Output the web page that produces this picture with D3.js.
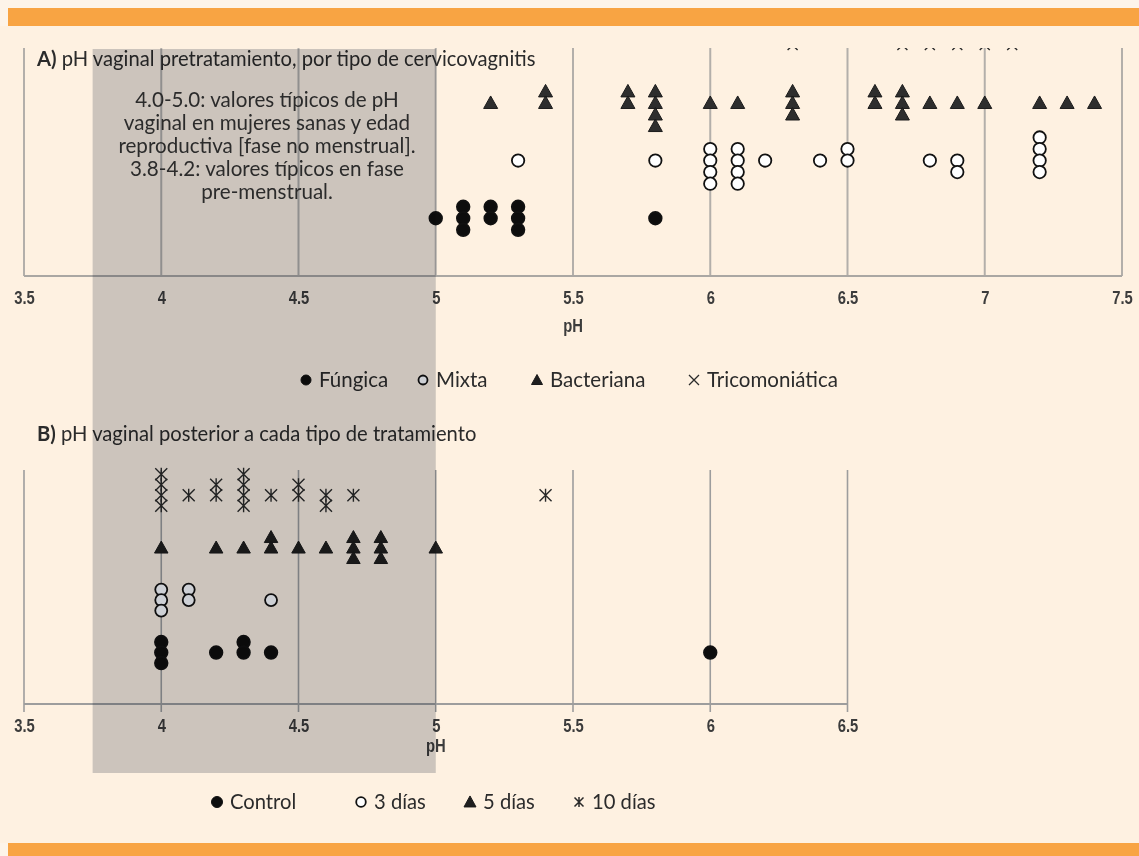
<!DOCTYPE html>
<html>
<head>
<meta charset="utf-8">
<script src="https://cdn.jsdelivr.net/npm/d3@7"></script>
<style>
  html, body { margin: 0; padding: 0; background: #fdf4e9; }
  svg { display: block; }
  .txt { font-family: Lato, "Open Sans", sans-serif; fill: #2b2b2b; }
  .num { font-family: "Liberation Sans", Arial, sans-serif; font-weight: bold; fill: #3c3c3c; }
</style>
</head>
<body>
<script>
// ---- Panel A: pretreatment vaginal pH by infection type ----
// each point: [pH, row position] (row 1 = Fúngica ... row 4 = Tricomoniática)
const fungicaA = [[5.0,1.0],[5.1,1.2],[5.1,1.0],[5.1,0.8],[5.2,1.2],[5.2,1.0],
  [5.3,1.2],[5.3,1.0],[5.3,0.8],[5.8,1.0]];
const mixtaA = [[5.3,2.0],[5.8,2.0],[6.0,2.2],[6.0,2.0],[6.0,1.8],[6.0,1.6],
  [6.1,2.2],[6.1,2.0],[6.1,1.8],[6.1,1.6],[6.2,2.0],[6.4,2.0],[6.5,2.2],[6.5,2.0],
  [6.8,2.0],[6.9,2.0],[6.9,1.8],[7.2,2.4],[7.2,2.2],[7.2,2.0],[7.2,1.8]];
const bacterianaA = [[5.2,3.0],[5.4,3.2],[5.4,3.0],[5.7,3.2],[5.7,3.0],
  [5.8,3.2],[5.8,3.0],[5.8,2.8],[5.8,2.6],[6.0,3.0],[6.1,3.0],[6.3,3.2],[6.3,3.0],[6.3,2.8],
  [6.6,3.2],[6.6,3.0],[6.7,3.2],[6.7,3.0],[6.7,2.8],[6.8,3.0],[6.9,3.0],[7.0,3.0],
  [7.2,3.0],[7.3,3.0],[7.4,3.0]];
const tricoA = [[6.3,4.0],[6.7,4.0],[6.8,4.0],[6.9,4.0],[7.0,4.0],[7.1,4.0]];
const legendA = ["Fúngica", "Mixta", "Bacteriana", "Tricomoniática"];
const ticksA = [3.5, 4, 4.5, 5, 5.5, 6, 6.5, 7, 7.5];

// ---- Panel B: vaginal pH after each treatment ----
const controlB = [[4.0,1.2],[4.0,1.0],[4.0,0.8],[4.2,1.0],[4.3,1.2],[4.3,1.0],[4.4,1.0],[6.0,1.0]];
const dias3B = [[4.0,2.2],[4.0,2.0],[4.0,1.8],[4.1,2.2],[4.1,2.0],[4.4,2.0]];
const dias5B = [[4.0,3.0],[4.2,3.0],[4.3,3.0],[4.4,3.2],[4.4,3.0],[4.5,3.0],[4.6,3.0],
  [4.7,3.2],[4.7,3.0],[4.7,2.8],[4.8,3.2],[4.8,3.0],[4.8,2.8],[5.0,3.0]];
const dias10B = [[4.0,4.4],[4.0,4.2],[4.0,4.0],[4.0,3.8],[4.1,4.0],[4.2,4.2],[4.2,4.0],
  [4.3,4.4],[4.3,4.2],[4.3,4.0],[4.3,3.8],[4.4,4.0],[4.5,4.2],[4.5,4.0],[4.6,4.0],[4.6,3.8],
  [4.7,4.0],[5.4,4.0]];
const legendB = ["Control", "3 días", "5 días", "10 días"];
const ticksB = [3.5, 4, 4.5, 5, 5.5, 6, 6.5];

// reference pH band and its note
const normalBand = [3.75, 5.0];
const noteLines = ["4.0-5.0: valores típicos de pH", "vaginal en mujeres sanas y edad",
  "reproductiva [fase no menstrual].", "3.8-4.2: valores típicos en fase", "pre-menstrual."];

const W = 1139, H = 856;
const svg = d3.select("body").append("svg").attr("width", W).attr("height", H);

svg.append("rect").attr("x", 0).attr("y", 0).attr("width", W).attr("height", H).attr("fill", "#fdf4e9");
svg.append("rect").attr("x", 0).attr("y", 26).attr("width", W).attr("height", 817).attr("fill", "#fef1e1");
svg.append("rect").attr("x", 8).attr("y", 8).attr("width", W - 8).attr("height", 18).attr("fill", "#f8a443");
svg.append("rect").attr("x", 8).attr("y", 843).attr("width", W - 8).attr("height", 13).attr("fill", "#f8a443");

// scales
const xA = d3.scaleLinear().domain([3.5, 7.5]).range([24, 1122]);
const yA = d3.scaleLinear().domain([0, 3.95]).range([276, 48]);
const xB = d3.scaleLinear().domain([3.5, 6.5]).range([24, 847.5]);
const yB = d3.scaleLinear().domain([0, 4.48]).range([705, 470]);

// marker painters
function circle(g, r, fill) {
  return g.append("circle").attr("r", r).attr("fill", fill).attr("stroke", "#111").attr("stroke-width", 1.8);
}
function triangle(g, w, h, fill) {
  return g.append("path")
    .attr("d", `M0,${-h * 0.55}L${w / 2},${h * 0.45}L${-w / 2},${h * 0.45}Z`)
    .attr("fill", fill).attr("stroke", "#1a1a1a").attr("stroke-width", 1);
}
function cross(g, s, withBar) {
  let d = `M${-s},${-s}L${s},${s}M${s},${-s}L${-s},${s}`;
  if (withBar) d += `M0,${-s - 0.5}L0,${s + 0.5}`;
  return g.append("path").attr("d", d).attr("fill", "none").attr("stroke", "#2a2a2a").attr("stroke-width", 1.4);
}

function plotSeries(layer, data, x, y, draw) {
  layer.selectAll(null).data(data).enter().append("g")
    .attr("transform", d => `translate(${x(d[0])},${y(d[1])})`)
    .each(function () { draw(d3.select(this)); });
}

// condensed bold numerals for the axes
const NUM_SIZE = 18.5, NUM_SQUEEZE = 0.8;
function styleAxisText(sel) {
  sel.selectAll("text")
    .attr("class", "num").attr("font-size", NUM_SIZE)
    .attr("transform", `scale(${NUM_SQUEEZE},1)`);
}

// ---------- Panel A ----------
const gA = svg.append("g");
gA.append("defs").append("clipPath").attr("id", "clipA")
  .append("rect").attr("x", 0).attr("y", yA(3.95)).attr("width", W).attr("height", yA(0) - yA(3.95) + 10);

// vertical grid lines
gA.append("g").selectAll("line").data(ticksA).enter().append("line")
  .attr("x1", d => xA(d)).attr("x2", d => xA(d))
  .attr("y1", yA(3.95)).attr("y2", yA(0))
  .attr("stroke", "#b3afaa").attr("stroke-width", 2);
gA.append("line").attr("x1", xA(3.5)).attr("x2", xA(7.5)).attr("y1", yA(0)).attr("y2", yA(0))
  .attr("stroke", "#aaa7a3").attr("stroke-width", 2);

const axA = gA.append("g").attr("transform", `translate(0,${yA(0)})`)
  .call(d3.axisBottom(xA).tickValues(ticksA).tickFormat(d => String(d)).tickSize(0).tickPadding(15));
axA.select(".domain").remove();
styleAxisText(axA);
gA.append("text").attr("class", "num").attr("font-size", NUM_SIZE).attr("text-anchor", "middle")
  .attr("transform", `translate(${xA(5.5)},332) scale(${NUM_SQUEEZE},1)`).text("pH");

const marksA = gA.append("g").attr("clip-path", "url(#clipA)");
plotSeries(marksA, fungicaA, xA, yA, g => circle(g, 6.3, "#0d0d0d"));
plotSeries(marksA, mixtaA, xA, yA, g => circle(g, 6.2, "#ffffff"));
plotSeries(marksA, bacterianaA, xA, yA, g => triangle(g, 14, 12.5, "#2e2e2e"));
plotSeries(marksA, tricoA, xA, yA, g => cross(g, 5, false));

// title A
const tA = svg.append("text").attr("class", "txt").attr("x", 37).attr("y", 66).attr("font-size", 20.2);
tA.append("tspan").attr("font-weight", "bold").text("A)");
tA.append("tspan").text(" pH vaginal pretratamiento, por tipo de cervicovagnitis");

// legend A
const legAx = [306, 423, 537, 694];
const legA = svg.append("g").attr("transform", "translate(0,380)");
legendA.forEach((name, i) => {
  const g = legA.append("g").attr("transform", `translate(${legAx[i]},0)`);
  if (i === 0) circle(g, 5, "#0d0d0d").attr("stroke-width", 1);
  if (i === 1) circle(g, 4.5, "#ffffff").attr("stroke-width", 1.8);
  if (i === 2) triangle(g, 11, 10, "#1e1e1e");
  if (i === 3) cross(g, 5, false).attr("stroke-width", 1.3);
  legA.append("text").attr("class", "txt").attr("x", legAx[i] + 13).attr("y", 7)
    .attr("font-size", 20.5).text(name);
});

// ---------- Panel B ----------
const gB = svg.append("g");
gB.append("g").selectAll("line").data(ticksB).enter().append("line")
  .attr("x1", d => xB(d)).attr("x2", d => xB(d))
  .attr("y1", yB(4.48)).attr("y2", 712)
  .attr("stroke", "#9d9d9d").attr("stroke-width", 1.6);
gB.append("line").attr("x1", xB(3.5)).attr("x2", xB(6.5)).attr("y1", 704).attr("y2", 704)
  .attr("stroke", "#9d9d9d").attr("stroke-width", 2);

const axB = gB.append("g").attr("transform", "translate(0,704)")
  .call(d3.axisBottom(xB).tickValues(ticksB).tickFormat(d => String(d)).tickSize(0).tickPadding(15));
axB.select(".domain").remove();
styleAxisText(axB);
gB.append("text").attr("class", "num").attr("font-size", NUM_SIZE).attr("text-anchor", "middle")
  .attr("transform", `translate(${xB(5)},752) scale(${NUM_SQUEEZE},1)`).text("pH");

const marksB = gB.append("g");
plotSeries(marksB, controlB, xB, yB, g => circle(g, 6.3, "#0d0d0d"));
plotSeries(marksB, dias3B, xB, yB, g => circle(g, 6, "#ffffff"));
plotSeries(marksB, dias5B, xB, yB, g => triangle(g, 13.5, 12, "#1e1e1e"));
plotSeries(marksB, dias10B, xB, yB, g => cross(g, 6, true));

// title B
const tB = svg.append("text").attr("class", "txt").attr("x", 37).attr("y", 441).attr("font-size", 20.2);
tB.append("tspan").attr("font-weight", "bold").text("B)");
tB.append("tspan").text(" pH vaginal posterior a cada tipo de tratamiento");

// legend B
const legBx = [217, 361, 470, 579];
const legB = svg.append("g").attr("transform", "translate(0,802)");
legendB.forEach((name, i) => {
  const g = legB.append("g").attr("transform", `translate(${legBx[i]},0)`);
  if (i === 0) circle(g, 5.5, "#0d0d0d").attr("stroke-width", 1);
  if (i === 1) circle(g, 4.8, "#ffffff").attr("stroke-width", 1.8);
  if (i === 2) triangle(g, 12, 11, "#1e1e1e");
  if (i === 3) cross(g, 4.5, true).attr("stroke-width", 1.5);
  legB.append("text").attr("class", "txt").attr("x", legBx[i] + 13).attr("y", 7)
    .attr("font-size", 20.2).text(name);
});

// ---------- shaded reference band (multiplied over both panels) ----------
svg.append("rect")
  .attr("x", xA(normalBand[0])).attr("y", 49)
  .attr("width", xA(normalBand[1]) - xA(normalBand[0])).attr("height", 773 - 49)
  .attr("fill", "#cdd0d5").style("mix-blend-mode", "multiply");

// note inside the band
const note = svg.append("text").attr("class", "txt").attr("font-size", 20.6).attr("text-anchor", "middle");
noteLines.forEach((line, i) => {
  note.append("tspan").attr("x", 267).attr("y", 107 + i * 23).text(line);
});
</script>
</body>
</html>
